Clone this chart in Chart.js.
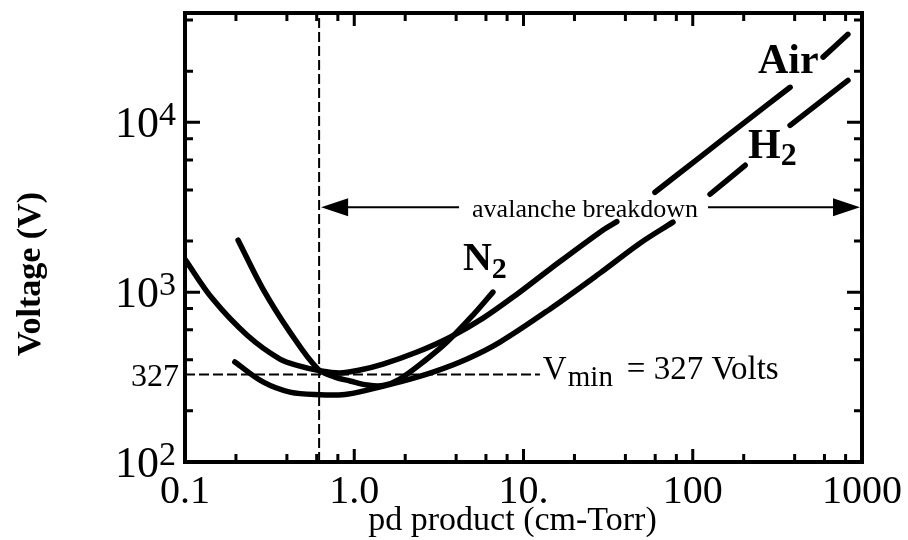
<!DOCTYPE html>
<html>
<head>
<meta charset="utf-8">
<title>Paschen curves</title>
<script src="https://cdn.jsdelivr.net/npm/chart.js@4.4.1/dist/chart.umd.min.js"></script>
<style>
  html, body { margin: 0; padding: 0; background: #fff; }
  #wrap { width: 908px; height: 540px; }
</style>
</head>
<body>
<div id="wrap"><canvas id="paschenChart"></canvas></div>
<script>
// breakdown voltage (V) against pd (cm-Torr); null marks a break in the drawn curve
const airPd = [0.1, 0.146, 0.233, 0.364, 0.478, 0.62, 0.82, 1.08, 1.48, 2.35, 3.68, 5.77, 9.15, 14.3, 28.3, 35.6, 46, 59.8, 110, 200, 376, 470, 589, 826];
const airV  = [1560, 910, 558, 404, 367, 345, 334, 348, 377, 444, 543, 703, 973, 1365, 2254, 2600, null, 3873, 6220, 9890, 16070, null, 24200, 32960];

const n2Pd = [0.206, 0.289, 0.417, 0.611, 0.77, 0.944, 1.19, 1.48, 1.86, 2.69, 3.53, 5.03, 6.6];
const n2V  = [2023, 1042, 582, 352, 316, 300, 284, 282, 308, 404, 508, 733, 1000];

const h2Pd = [0.197, 0.289, 0.417, 0.627, 0.882, 1.19, 1.86, 2.92, 4.64, 7.26, 14.3, 28.3, 48.8, 76.4, 100, 126.5, 204, 280, 376, 826];
const h2V  = [388, 296, 258, 249, 250, 265, 296, 338, 404, 508, 794, 1294, 1941, 2582, null, 3770, 5585, null, 9594, 17660];

const pdTicks = [0.1, 1, 10, 100, 1000];
const pdTickLabels = ["0.1", "1.0", "10.", "100", "1000"];
const voltTicks = [100, 1000, 10000];
const voltTickExps = ["2", "3", "4"];

const vMin = 327;
const pdAtMin = 0.62;

const toPoints = (xs, ys) => xs.map((x, i) => ({ x: x, y: ys[i] }));

const serif = "'Liberation Serif', 'Times New Roman', serif";

const curveStyle = {
    borderColor: "#000",
    borderWidth: 5.5,
    pointRadius: 0,
    fill: false,
    spanGaps: false,
    tension: 0.35,
    borderCapStyle: "round"
};

const dashStyle = {
    borderColor: "#000",
    borderWidth: 2,
    borderDash: [10, 4],
    pointRadius: 0,
    fill: false
};

const drawArrowHead = (ctx, tipX, y, dir) => {
    ctx.beginPath();
    ctx.moveTo(tipX, y);
    ctx.lineTo(tipX - dir * 27, y - 9);
    ctx.lineTo(tipX - dir * 27, y + 9);
    ctx.closePath();
    ctx.fill();
};

// frame, inward ticks, tick labels, titles and the text notes
const decorPlugin = {
    id: "paschenDecor",
    afterDatasetsDraw(chart) {
        const ctx = chart.ctx;
        const area = chart.chartArea;
        const xs = chart.scales.x;
        const ys = chart.scales.y;
        const px = v => xs.getPixelForValue(v);
        const py = v => ys.getPixelForValue(v);

        ctx.save();
        ctx.fillStyle = "#000";
        ctx.strokeStyle = "#000";

        // box
        ctx.lineWidth = 4;
        ctx.strokeRect(area.left, area.top, area.right - area.left, area.bottom - area.top);

        // ticks on all four sides
        ctx.lineWidth = 3;
        ctx.beginPath();
        [0.1, 1, 10, 100].forEach(dec => {
            [1, 2, 4, 6, 8].forEach(m => {
                const x = px(dec * m);
                const len = m === 1 ? 13 : 8;
                ctx.moveTo(x, area.bottom); ctx.lineTo(x, area.bottom - len);
                ctx.moveTo(x, area.top); ctx.lineTo(x, area.top + len);
            });
        });
        [100, 1000, 10000].forEach(dec => {
            [1, 2, 4, 6, 8].forEach(m => {
                const v = dec * m;
                if (v > ys.max) return;
                const y = py(v);
                const len = m === 1 ? 15 : 8;
                ctx.moveTo(area.left, y); ctx.lineTo(area.left + len, y);
                ctx.moveTo(area.right, y); ctx.lineTo(area.right - len, y);
            });
        });
        ctx.stroke();

        // x tick labels
        ctx.font = "40px " + serif;
        ctx.textAlign = "center";
        ctx.textBaseline = "alphabetic";
        pdTicks.forEach((v, i) => {
            ctx.fillText(pdTickLabels[i], px(v), area.bottom + 41);
        });

        // y tick labels: 10 with a raised exponent
        voltTicks.forEach((v, i) => {
            const y = py(v);
            const right = area.left - 9;
            ctx.font = "34px " + serif;
            const supW = ctx.measureText(voltTickExps[i]).width;
            ctx.textAlign = "left";
            ctx.fillText(voltTickExps[i], right - supW, y + 3);
            ctx.font = "44px " + serif;
            const baseW = ctx.measureText("10").width;
            ctx.fillText("10", right - supW - baseW, y + 15);
        });
        ctx.font = "32px " + serif;
        ctx.textAlign = "right";
        ctx.fillText(String(vMin), area.left - 6, py(vMin) + 11);

        // axis titles
        ctx.font = "34px " + serif;
        ctx.textAlign = "center";
        ctx.fillText("pd product (cm-Torr)", (area.left + area.right) / 2 - 11, area.bottom + 68);

        ctx.save();
        ctx.translate(31, 274);
        ctx.rotate(-Math.PI / 2);
        ctx.font = "bold 34px " + serif;
        ctx.textBaseline = "middle";
        ctx.fillText("Voltage (V)", 0, 0);
        ctx.restore();

        // avalanche breakdown arrow, from the Vmin line out to the right edge
        const arrowY = py(3160);
        const leftTip = px(pdAtMin) + 2;
        const rightTip = area.right - 2;
        ctx.font = "26px " + serif;
        ctx.textAlign = "center";
        const label = "avalanche breakdown";
        const labelX = px(23.1);
        const labelW = ctx.measureText(label).width;
        ctx.fillText(label, labelX, arrowY + 10);
        ctx.lineWidth = 2;
        ctx.beginPath();
        ctx.moveTo(leftTip + 20, arrowY); ctx.lineTo(labelX - labelW / 2 - 13, arrowY);
        ctx.moveTo(labelX + labelW / 2 + 10, arrowY); ctx.lineTo(rightTip - 20, arrowY);
        ctx.stroke();
        drawArrowHead(ctx, leftTip, arrowY, -1);
        drawArrowHead(ctx, rightTip, arrowY, 1);

        // Vmin note
        const vy = py(vMin);
        const tx = px(13.0);
        ctx.textAlign = "left";
        ctx.font = "33px " + serif;
        ctx.fillText("V", tx, vy + 4);
        ctx.font = "29px " + serif;
        ctx.fillText("min", tx + 25, vy + 11);
        ctx.font = "33px " + serif;
        ctx.fillText("= 327 Volts", tx + 84, vy + 4);

        // gas names
        const gasLabel = (name, sub, pd, v, size, subSize, drop) => {
            const gx = px(pd);
            const gy = py(v);
            ctx.font = "bold " + size + "px " + serif;
            ctx.fillText(name, gx, gy);
            if (sub) {
                const w = ctx.measureText(name).width;
                ctx.font = "bold " + subSize + "px " + serif;
                ctx.fillText(sub, gx + w, gy + drop);
            }
        };
        gasLabel("Air", "", 243, 19400, 42, 0, 0);
        gasLabel("H", "2", 212, 6140, 42, 32, 7);
        gasLabel("N", "2", 4.39, 1345, 40, 30, 8);

        ctx.restore();
    }
};

new Chart("paschenChart", {
    type: "line",
    data: {
        datasets: [
            { label: "Air", data: toPoints(airPd, airV), ...curveStyle },
            { label: "N2", data: toPoints(n2Pd, n2V), ...curveStyle },
            { label: "H2", data: toPoints(h2Pd, h2V), ...curveStyle },
            { label: "pd at Vmin", data: [{ x: pdAtMin, y: 100 }, { x: pdAtMin, y: 44000 }], ...dashStyle },
            { label: "Vmin", data: [{ x: 0.1, y: vMin }, { x: 12.5, y: vMin }], ...dashStyle }
        ]
    },
    options: {
        responsive: true,
        maintainAspectRatio: false,
        animation: false,
        layout: {
            padding: { left: 185, right: 46, top: 13, bottom: 78 }
        },
        scales: {
            x: { type: "logarithmic", min: 0.1, max: 1000, display: false },
            y: { type: "logarithmic", min: 100, max: 44000, display: false }
        },
        plugins: {
            legend: { display: false },
            tooltip: { enabled: false }
        }
    },
    plugins: [decorPlugin]
});
</script>
</body>
</html>
